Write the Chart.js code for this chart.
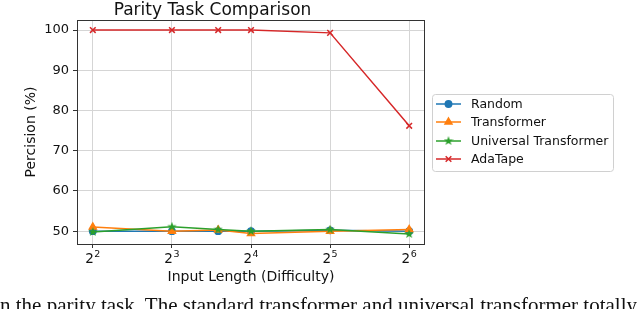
<!DOCTYPE html>
<html>
<head>
<meta charset="utf-8">
<script src="https://cdn.jsdelivr.net/npm/chart.js@4/dist/chart.umd.min.js"></script>
<style>
  html, body { margin: 0; padding: 0; background: #fff; overflow: hidden; }
  #wrap { position: relative; width: 640px; height: 309px; overflow: hidden; }
  #caption {
    position: absolute; left: 0; top: 293px; white-space: nowrap; line-height: normal;
    font-family: "Liberation Serif", serif; font-size: 21px; color: #111;
  }
</style>
</head>
<body>
<div id="wrap">
  <canvas id="chart" width="640" height="309"></canvas>
  <div id="caption">n the parity task. The standard transformer and universal transformer totally fail</div>
</div>
<script>
// input lengths (x) and precision values (%)
const inputLengths = [4, 8, 12, 16, 32, 64];
const randomVals = [50.0, 50.0, 50.0, 50.0, 50.2, 50.0];
const transformerVals = [51.0, 50.0, 50.3, 49.4, 50.0, 50.4];
const universalVals = [49.8, 51.1, 50.4, 50.0, 50.4, 49.3];
const adaTapeVals = [100, 100, 100, 100, 99.3, 76.2];

// x ticks are powers of two: base 2 and exponent drawn as superscript
const xTickValues = [4, 8, 16, 32, 64];
const xTickExponents = ['2', '3', '4', '5', '6'];
const yTickValues = [50, 60, 70, 80, 90, 100];

const FONT = 'DejaVu Sans';

// filled 5-point star like matplotlib's '*' marker
function makeStar(color, size) {
    const c = document.createElement('canvas');
    c.width = size; c.height = size;
    const g = c.getContext('2d');
    const cx = size / 2, cy = size / 2, R = size / 2, r = R * 0.4;
    g.beginPath();
    for (let i = 0; i < 10; i++) {
        const a = -Math.PI / 2 + i * Math.PI / 5;
        const rad = i % 2 === 0 ? R : r;
        g.lineTo(cx + rad * Math.cos(a), cy + rad * Math.sin(a));
    }
    g.closePath();
    g.fillStyle = color;
    g.fill();
    return c;
}
const starImg = makeStar('#2ca02c', 10);

const toPoints = vals => vals.map((v, i) => ({ x: inputLengths[i], y: v }));

const series = [
    { label: 'Random', data: randomVals, color: '#1f77b4', style: 'circle', radius: 3.2, order: 4 },
    { label: 'Transformer', data: transformerVals, color: '#ff7f0e', style: 'triangle', radius: 4, order: 3 },
    { label: 'Universal Transformer', data: universalVals, color: '#2ca02c', style: starImg, radius: 5, order: 2 },
    { label: 'AdaTape', data: adaTapeVals, color: '#d62728', style: 'crossRot', radius: 4, order: 1 }
];

// axes frame (all four sides)
const framePlugin = {
    id: 'frame',
    afterDatasetsDraw(chart) {
        const { ctx, chartArea: a } = chart;
        ctx.save();
        ctx.strokeStyle = '#333';
        ctx.lineWidth = 1;
        ctx.strokeRect(a.left + 0.5, a.top + 0.5, a.right - a.left - 1, a.bottom - a.top);
        ctx.restore();
    }
};

// 2^n labels with a real superscript, placed by the x scale
const powerLabels = {
    id: 'powerLabels',
    afterDraw(chart) {
        const { ctx, scales: { x } } = chart;
        ctx.save();
        ctx.fillStyle = '#111';
        ctx.textBaseline = 'alphabetic';
        ctx.textAlign = 'left';
        const baseFont = '13.5px "' + FONT + '"';
        const supFont = '9.5px "' + FONT + '"';
        xTickValues.forEach((v, i) => {
            const px = x.getPixelForValue(v);
            ctx.font = baseFont;
            const wb = ctx.measureText('2').width;
            ctx.font = supFont;
            const ws = ctx.measureText(xTickExponents[i]).width;
            const left = px - (wb + ws + 0.5) / 2;
            ctx.font = baseFont;
            ctx.fillText('2', left, 262.5);
            ctx.font = supFont;
            ctx.fillText(xTickExponents[i], left + wb + 0.5, 256.8);
        });
        ctx.restore();
    }
};

// matplotlib-style legend box outside the axes
const legendPlugin = {
    id: 'mplLegend',
    afterDraw(chart) {
        const ctx = chart.ctx;
        const box = { x: 432, y: 94, w: 181, h: 77 };
        ctx.save();
        ctx.beginPath();
        ctx.roundRect(box.x + 0.5, box.y + 0.5, box.w, box.h, 3);
        ctx.fillStyle = 'rgba(255,255,255,0.8)';
        ctx.fill();
        ctx.strokeStyle = '#d0d0d0';
        ctx.lineWidth = 1;
        ctx.stroke();
        const rows = [104, 122, 141, 159];
        series.forEach((s, i) => {
            const y = rows[i];
            ctx.strokeStyle = s.color;
            ctx.lineWidth = 1.5;
            ctx.beginPath();
            ctx.moveTo(436, y);
            ctx.lineTo(461, y);
            ctx.stroke();
            ctx.fillStyle = s.color;
            Chart.helpers.drawPoint(ctx, {
                pointStyle: s.style, radius: s.radius, rotation: 0, borderWidth: 1.5
            }, 448.5, y);
            ctx.fillStyle = '#111';
            ctx.font = '12.5px "' + FONT + '"';
            ctx.textAlign = 'left';
            ctx.textBaseline = 'middle';
            ctx.fillText(s.label, 471, y + 0.5);
        });
        ctx.restore();
    }
};

new Chart(document.getElementById('chart'), {
    type: 'line',
    data: {
        datasets: series.map(s => ({
            label: s.label,
            data: toPoints(s.data),
            borderColor: s.color,
            backgroundColor: s.color,
            borderWidth: 1.5,
            pointStyle: s.style,
            pointRadius: s.radius,
            pointBorderWidth: 1.5,
            tension: 0,
            order: s.order
        }))
    },
    options: {
        responsive: false,
        animation: false,
        devicePixelRatio: 1,
        layout: { padding: { top: 0, right: 215, bottom: 0, left: 0 } },
        plugins: {
            legend: { display: false },
            tooltip: { enabled: false },
            title: {
                display: true,
                text: 'Parity Task Comparison',
                color: '#111',
                font: { family: FONT, size: 17, weight: 'normal', lineHeight: 1.0 },
                padding: { top: 2, bottom: 1 }
            }
        },
        scales: {
            x: {
                type: 'logarithmic',
                min: Math.pow(2, 1.8),
                max: Math.pow(2, 6.2),
                afterBuildTicks: scale => { scale.ticks = xTickValues.map(v => ({ value: v })); },
                afterFit: scale => { scale.height = 65; },
                ticks: {
                    callback: () => '',
                    font: { family: FONT, size: 13 },
                    padding: 3,
                    maxRotation: 0,
                    autoSkip: false
                },
                grid: { color: '#d5d5d5', lineWidth: 1, tickLength: 4, tickColor: '#333' },
                border: { display: false },
                title: {
                    display: true,
                    text: 'Input Length (Difficulty)',
                    color: '#111',
                    font: { family: FONT, size: 14 },
                    padding: { top: 0, bottom: 23.5 }
                }
            },
            y: {
                min: 46.8,
                max: 102.5,
                afterBuildTicks: scale => { scale.ticks = yTickValues.map(v => ({ value: v })); },
                afterFit: scale => { scale.width = 77; },
                ticks: {
                    color: '#111',
                    font: { family: FONT, size: 13 },
                    padding: 4
                },
                grid: { color: '#d5d5d5', lineWidth: 1, tickLength: 4, tickColor: '#333' },
                border: { display: false },
                title: {
                    display: true,
                    text: 'Percision (%)',
                    color: '#111',
                    font: { family: FONT, size: 14 },
                    padding: { top: 22.5, bottom: 0 }
                }
            }
        }
    },
    plugins: [framePlugin, powerLabels, legendPlugin]
});
</script>
</body>
</html>
